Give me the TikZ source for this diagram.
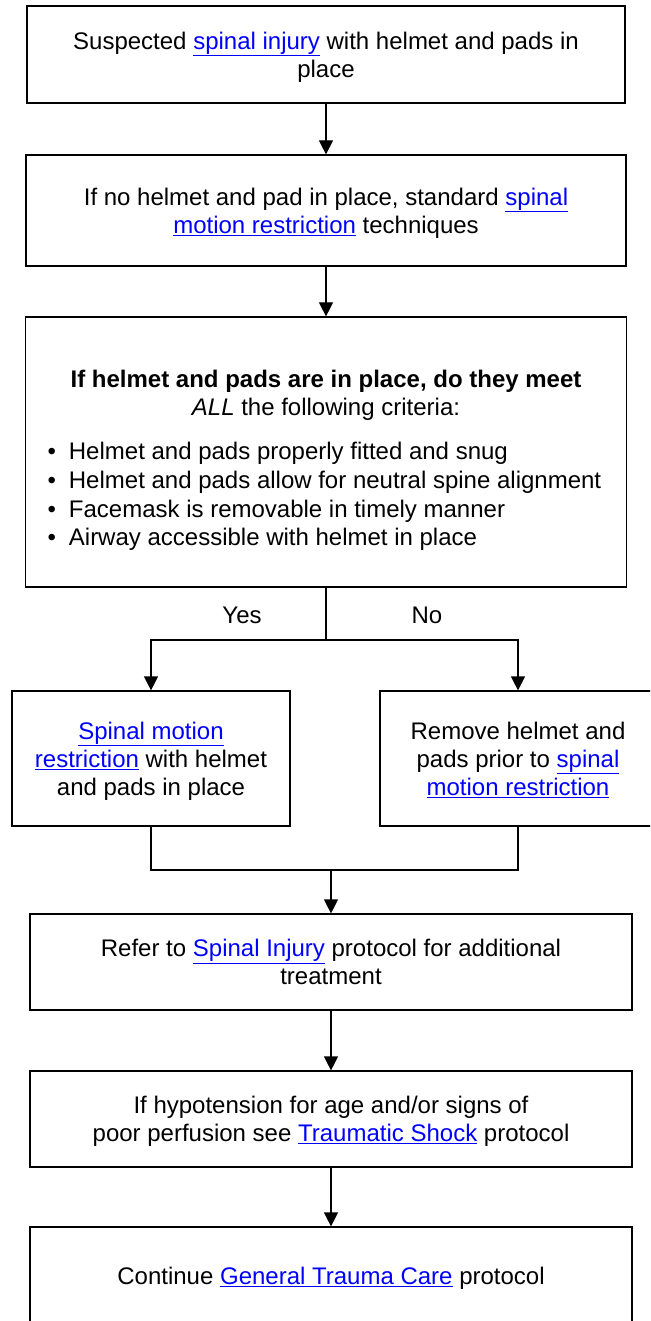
\documentclass[tikz,border=0pt]{standalone}
\usepackage{fontspec}
\setmainfont{Liberation Sans}
\usepackage{xcolor}
\usepackage{tikz}
\usetikzlibrary{arrows.meta, positioning, calc}

\definecolor{linkblue}{RGB}{0,0,255}
\newcommand{\lnk}[1]{\textcolor{linkblue}{\underline{#1}}}

\begin{document}
\begin{tikzpicture}[
  x=1pt, y=-1pt,
  every node/.style={font=\fontsize{24}{28}\selectfont},
  box/.style={draw, line width=1.2pt, align=center, inner sep=0pt, text depth=0pt},
  arr/.style={-{Triangle[width=14pt,length=14pt]}, line width=1.2pt},
  ln/.style={line width=1.2pt}
]
\useasboundingbox (0,0) rectangle (650,1321);
\clip (0,0) rectangle (650,1321);
\fill[white] (0,0) rectangle (650,1321);

%% top chain
\node[box, minimum width=598pt, minimum height=97pt] (b1) at (326,54.5)
  {Suspected \lnk{spinal injury} with helmet and pads in\\ place};
\node[box, minimum width=600pt, minimum height=111pt] (b2) at (326,210.5)
  {If no helmet and pad in place, standard \lnk{spinal}\\ \lnk{motion restriction} techniques};
\node[box, minimum width=601pt, minimum height=270pt] (b3) at (326,452) {};

%% criteria text
\node[align=center] (crit) at (326,395)
  {\bfseries If helmet and pads are in place, do they meet\\
   \textit{ALL} the following criteria:};
\node[anchor=west, align=left, font=\fontsize{24}{28.6}\selectfont] (list) at (44,497)
  {\begin{tabular}{@{}l@{\hspace{13pt}}l@{}}
   \textbullet & Helmet and pads properly fitted and snug\\
   \textbullet & Helmet and pads allow for neutral spine alignment\\
   \textbullet & Facemask is removable in timely manner\\
   \textbullet & Airway accessible with helmet in place
   \end{tabular}};

%% branches
\node[box, minimum width=278pt, minimum height=135pt] (bl) at (151,758.5)
  {\lnk{Spinal motion}\\ \lnk{restriction} with helmet\\ and pads in place};
\node[box, minimum width=276pt, minimum height=135pt] (br) at (518,758.5)
  {Remove helmet and\\ pads prior to \lnk{spinal}\\ \lnk{motion restriction}};

%% bottom chain
\node[box, minimum width=602pt, minimum height=96pt] (b4) at (331,962)
  {Refer to \lnk{Spinal Injury} protocol for additional\\ treatment};
\node[box, minimum width=602pt, minimum height=96pt] (b5) at (331,1119)
  {If hypotension for age and/or signs of\\ poor perfusion see \lnk{Traumatic Shock} protocol};
\node[box, minimum width=602pt, minimum height=98pt] (b6) at (331,1276)
  {Continue \lnk{General Trauma Care} protocol};

\coordinate (split) at (326,640);
\coordinate (merge) at (331,870);

%% arrows
\foreach \a/\b in {b1/b2, b2/b3, b4/b5, b5/b6}
  \draw[arr] (\a) -- (\b);

\draw[ln] (b3.south) -- (split);
\draw[arr] (split) -| (bl);
\draw[arr] (split) -| (br);
\draw[ln] (bl.south) |- (merge) -| (br.south);
\draw[arr] (merge) -- (b4);

%% branch labels
\node (yes) at (242,615) {Yes};
\node (no)  at (427,615) {No};
\end{tikzpicture}
\end{document}
